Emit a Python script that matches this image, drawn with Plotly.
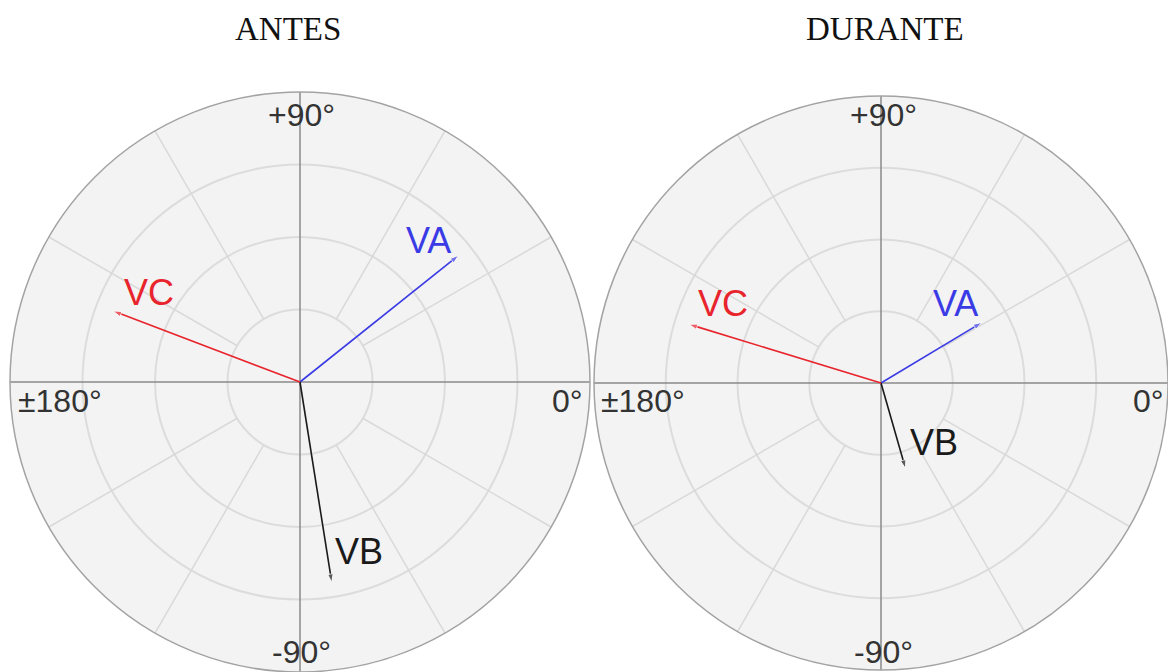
import plotly.graph_objects as go

# Phasor data (per-unit magnitude, angle in degrees)
phases = ["VA", "VB", "VC"]
antes_mag = [0.70, 0.70, 0.69]
antes_ang = [38.6, -81.0, 159.2]
durante_mag = [0.41, 0.31, 0.70]
durante_ang = [31.0, -74.0, 163.0]
phase_colors = ["#3b3be6", "#1a1a1a", "#e8242c"]

titles = ["ANTES", "DURANTE"]
ring_vals = [0.25, 0.5, 0.75]
spoke_angles = [30, 60, 120, 150, 210, 240, 300, 330]
axis_angles = [0, 90]
angle_tick_text = ["0°", "+90°", "±180°", "-90°"]

W, H = 1168, 672

fig = go.Figure()


def add_diagram(pid, mags, angs):
    # light spokes starting from the inner ring
    for a in spoke_angles:
        fig.add_trace(go.Scatterpolar(
            r=[ring_vals[0], 1.0], theta=[a, a], mode="lines",
            line=dict(color="#d9d9d9", width=1.5), subplot=pid,
            hoverinfo="skip", showlegend=False))
    # main axes through the centre
    for a in axis_angles:
        fig.add_trace(go.Scatterpolar(
            r=[1.0, 0, 1.0], theta=[a, a, a + 180], mode="lines",
            line=dict(color="#8a8a8a", width=1.5), subplot=pid,
            hoverinfo="skip", showlegend=False))
    # phasors
    for name, m, a, c in zip(phases, mags, angs, phase_colors):
        fig.add_trace(go.Scatterpolar(
            r=[0, m], theta=[a, a], mode="lines+markers",
            line=dict(color=c, width=1.6),
            marker=dict(symbol="arrow", size=[0, 9], angleref="previous",
                        color=c),
            subplot=pid, name=name, showlegend=False, hoverinfo="skip"))


add_diagram("polar", antes_mag, antes_ang)
add_diagram("polar2", durante_mag, durante_ang)

polar_common = dict(
    bgcolor="#f3f3f3",
    radialaxis=dict(range=[0, 1], tickvals=ring_vals, showticklabels=False,
                    ticks="", showline=False, gridcolor="#dcdcdc",
                    gridwidth=1.5),
    angularaxis=dict(showgrid=False, showticklabels=False, ticks="",
                     showline=True, linecolor="#a3a3a3", linewidth=1.5,
                     direction="counterclockwise", rotation=0),
)

fig.update_layout(
    width=W, height=H,
    margin=dict(l=0, r=0, t=0, b=0),
    paper_bgcolor="white",
    polar=dict(domain=dict(x=[10 / W, 590 / W], y=[0, 580 / H]),
               **polar_common),
    polar2=dict(domain=dict(x=[594 / W, 1.0], y=[2 / H, 576 / H]),
                **polar_common),
)


def px(x, y):
    return x / W, 1 - y / H


def note(text, cx, cy, font):
    x, y = px(cx, cy)
    return dict(x=x, y=y, text=text, showarrow=False, xref="paper",
                yref="paper", xanchor="center", yanchor="middle", font=font)


annotations = []
# titles
title_font = dict(family="Liberation Serif, Times New Roman, serif",
                  size=33, color="#111")
for t, cx in zip(titles, [288, 885]):
    annotations.append(note(t, cx, 29, title_font))

# angle labels for each diagram
label_font = dict(family="Liberation Sans, Arial, sans-serif", size=32,
                  color="#333")
for cx, right_x, left_x in [(301, 567, 60), (883, 1148, 643)]:
    for text, (lx, ly) in zip(angle_tick_text,
                              [(right_x, 401), (cx, 115), (left_x, 401), (cx, 652)]):
        annotations.append(note(text, lx, ly, label_font))

# phasor names
vec_labels = [
    ("VA", 428, 240, phase_colors[0]),
    ("VB", 359, 551, phase_colors[1]),
    ("VC", 149, 292, phase_colors[2]),
    ("VA", 955, 303, phase_colors[0]),
    ("VB", 934, 442, phase_colors[1]),
    ("VC", 723, 303, phase_colors[2]),
]
for text, lx, ly, c in vec_labels:
    annotations.append(note(text, lx, ly,
                            dict(family="Liberation Sans, Arial, sans-serif",
                                 size=36, color=c)))

fig.update_layout(annotations=annotations)

fig.write_html("out.html")
